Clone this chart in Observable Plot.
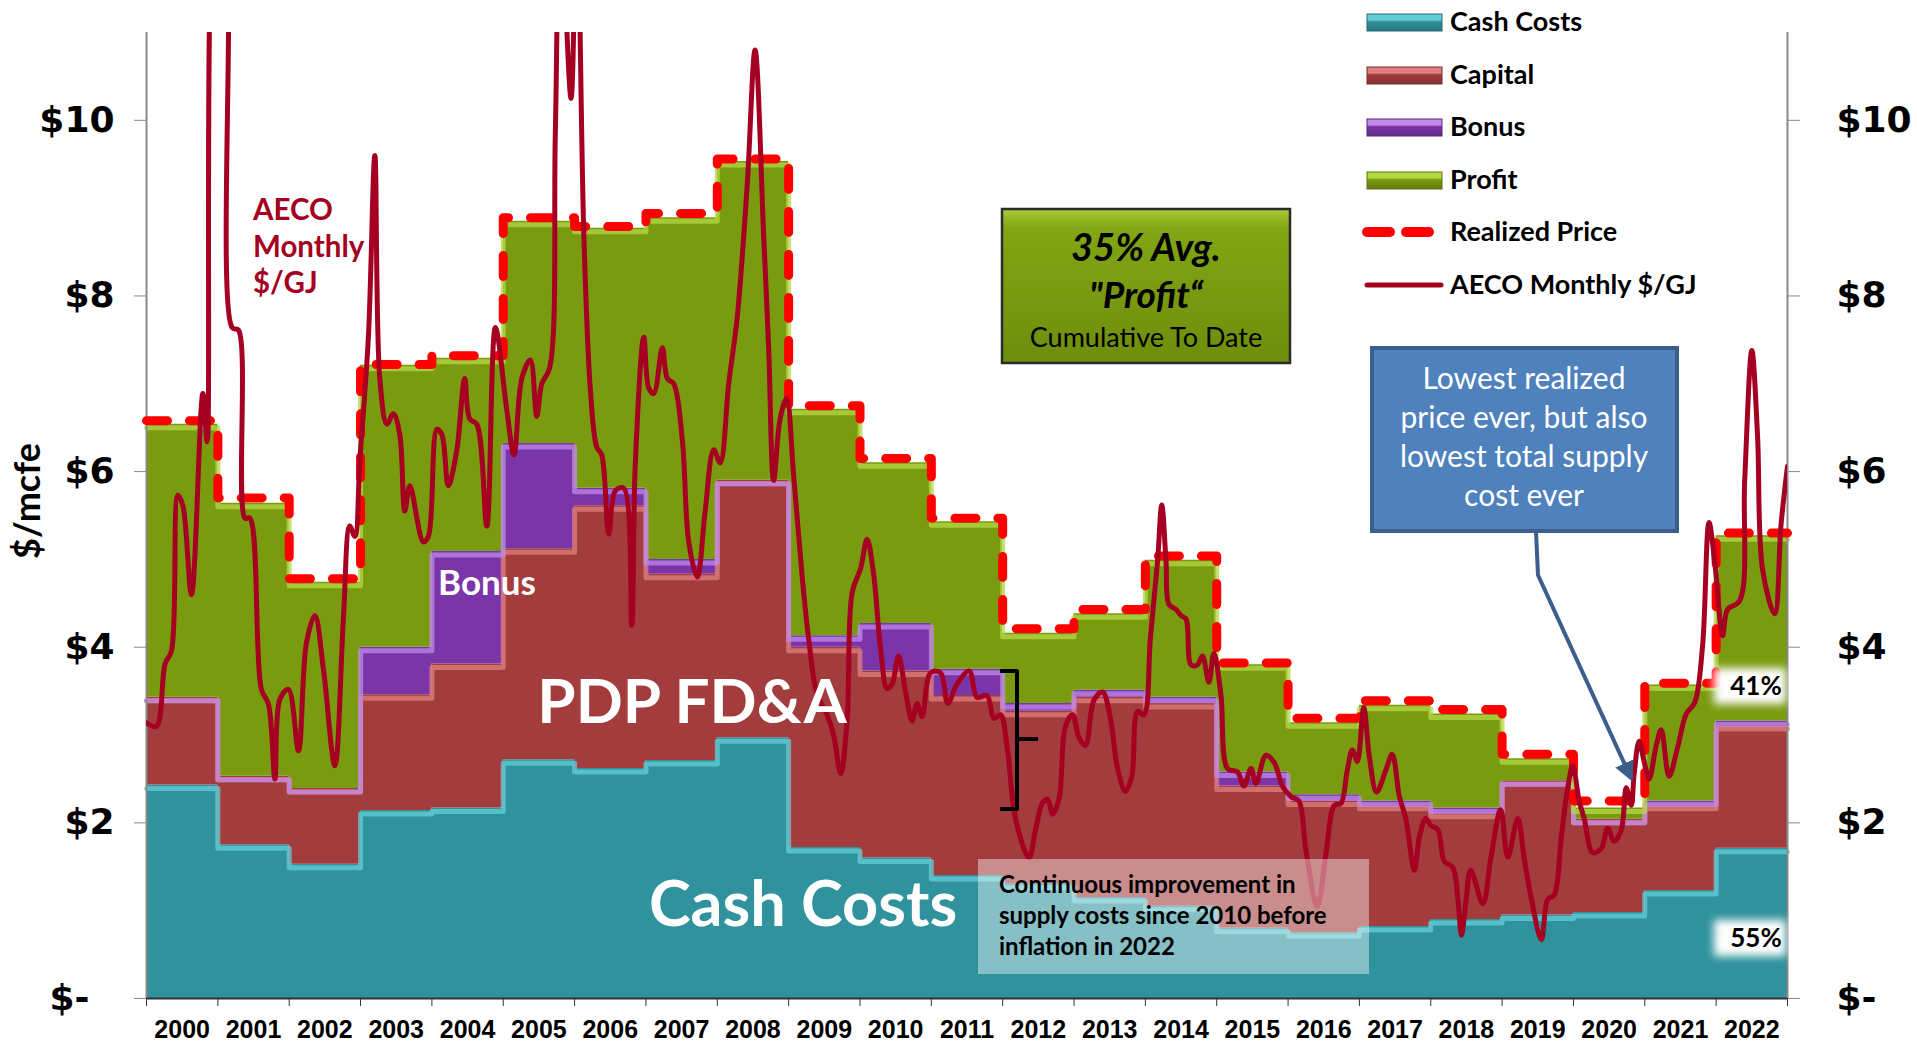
<!DOCTYPE html>
<html><head><meta charset="utf-8">
<script src="https://cdn.jsdelivr.net/npm/d3@7"></script>
<script src="https://cdn.jsdelivr.net/npm/@observablehq/plot@0.6"></script>
<style>
body{margin:0;background:#fff;}
#chart{position:relative;width:1917px;height:1044px;overflow:hidden}
</style></head><body><div id="chart"></div>
<script>
// ---- data ----
const years = [2000,2001,2002,2003,2004,2005,2006,2007,2008,2009,2010,2011,2012,2013,2014,2015,2016,2017,2018,2019,2020,2021,2022];
const cashCosts = [2.43,1.75,1.53,2.14,2.17,2.72,2.62,2.71,2.97,1.72,1.60,1.40,1.30,1.15,1.05,0.80,0.75,0.82,0.90,0.95,0.98,1.23,1.71];
const capital   = [1.00,0.78,0.86,1.32,1.64,2.40,2.99,2.12,2.93,2.28,2.13,2.05,1.97,2.28,2.31,1.62,1.50,1.38,1.21,1.53,1.06,0.97,1.40];
const bonus     = [0.00,0.00,0.00,0.54,1.28,1.20,0.20,0.17,0.00,0.13,0.54,0.30,0.09,0.08,0.07,0.16,0.07,0.05,0.06,0.00,0.00,0.05,0.05];
const profit    = [3.11,3.11,2.35,3.21,2.20,2.53,2.96,3.89,3.63,2.58,1.83,1.68,0.80,0.87,1.56,1.22,0.82,1.09,1.07,0.25,0.13,1.32,2.11];
const realizedPrice = [6.58,5.70,4.78,7.22,7.32,8.89,8.79,8.94,9.56,6.75,6.15,5.47,4.21,4.43,5.04,3.82,3.19,3.39,3.29,2.78,2.25,3.59,5.30];

// AECO monthly $/GJ: [decimal year, value]
const aecoTime = [2000.00,2000.14,2000.26,2000.35,2000.44,2000.51,2000.63,2000.79,2000.85,2000.98,2001.10,2001.20,2001.29,2001.38,2001.45,2001.61,2001.71,2001.80,2001.87,2001.99,
2002.13,2002.24,2002.36,2002.48,2002.64,2002.76,2002.85,2002.92,2002.99,2003.11,2003.20,2003.27,2003.37,2003.46,2003.55,2003.62,2003.69,2003.88,2003.95,
2004.07,2004.14,2004.23,2004.35,2004.46,2004.53,2004.63,2004.77,2004.89,2005.05,2005.15,2005.26,2005.38,2005.47,2005.54,2005.65,2005.73,2005.80,2005.95,
2006.03,2006.13,2006.22,2006.31,2006.38,2006.48,2006.57,2006.69,2006.80,2006.85,2006.97,2007.04,2007.11,2007.23,2007.30,2007.39,2007.51,2007.60,2007.72,2007.83,2007.95,
2008.04,2008.16,2008.28,2008.42,2008.53,2008.65,2008.72,2008.79,2008.88,2008.97,2009.07,2009.19,2009.28,2009.40,2009.54,2009.63,2009.73,2009.82,2009.89,
2010.01,2010.10,2010.19,2010.29,2010.38,2010.45,2010.54,2010.64,2010.73,2010.80,2010.87,2010.99,2011.13,2011.23,2011.36,2011.53,2011.64,2011.78,2011.88,2011.97,
2012.06,2012.18,2012.37,2012.46,2012.56,2012.63,2012.70,2012.79,2012.88,2012.98,2013.07,2013.16,2013.28,2013.40,2013.51,2013.61,2013.72,2013.81,2013.89,2013.98,
2014.07,2014.17,2014.23,2014.29,2014.33,2014.43,2014.50,2014.57,2014.64,2014.73,2014.80,2014.89,2014.96,2015.06,2015.15,2015.29,2015.38,2015.48,2015.55,2015.69,2015.81,2015.92,
2016.04,2016.15,2016.25,2016.41,2016.53,2016.65,2016.74,2016.83,2016.90,2016.97,2017.06,2017.14,2017.24,2017.37,2017.46,2017.56,2017.65,2017.77,2017.84,2017.93,
2018.00,2018.10,2018.19,2018.31,2018.38,2018.43,2018.49,2018.56,2018.73,2018.84,2018.98,2019.08,2019.22,2019.31,2019.40,2019.55,2019.64,2019.73,2019.83,2019.92,2019.99,
2020.08,2020.15,2020.27,2020.39,2020.48,2020.57,2020.67,2020.74,2020.81,2020.85,2020.92,2020.99,2021.06,2021.16,2021.23,2021.34,2021.46,2021.58,2021.70,2021.81,2021.90,2021.99,
2022.09,2022.16,2022.33,2022.40,2022.50,2022.58,2022.65,2022.82,2022.91,2023.00];
const aecoValue = [3.14,3.10,3.81,3.96,5.73,5.61,4.60,6.89,6.34,12.5,12.3,7.64,7.61,5.47,5.47,3.52,3.35,2.50,3.41,3.52,
2.82,4.04,4.36,3.75,2.65,4.33,5.38,5.26,6.13,7.53,9.60,7.06,6.54,6.66,6.42,5.55,5.84,5.20,5.26,
6.48,6.42,5.84,6.25,7.06,6.60,6.54,5.38,7.64,6.70,6.19,7.06,7.27,6.63,7.00,7.18,9.85,12.5,10.25,
12.5,8.69,6.95,6.28,6.19,5.29,5.78,5.81,4.25,6.07,7.53,6.95,6.89,7.41,7.06,7.00,6.36,5.20,4.80,5.55,6.25,
6.10,7.00,7.76,9.27,10.80,8.69,7.41,5.90,6.60,6.83,5.96,4.80,4.10,3.46,3.23,3.00,2.56,3.17,4.62,
4.90,5.23,4.84,3.97,3.53,3.58,3.90,3.49,3.16,3.36,3.21,3.71,3.71,3.36,3.58,3.73,3.43,3.45,3.19,3.23,
2.88,2.05,1.60,1.92,2.23,2.27,2.10,2.27,3.10,3.23,2.97,2.88,3.40,3.49,3.19,2.62,2.36,2.53,3.27,3.23,
4.10,4.97,5.62,4.97,4.49,4.43,4.36,4.32,3.80,3.80,3.90,3.60,3.93,3.45,2.62,2.58,2.42,2.62,2.45,2.77,2.68,2.42,
2.30,2.25,1.69,1.05,1.64,2.20,2.22,2.60,2.83,2.70,3.31,2.75,2.35,2.60,2.78,2.30,2.05,1.46,1.84,2.05,
1.97,1.92,1.56,1.49,1.13,0.72,1.08,1.46,1.08,1.59,2.15,1.61,2.05,1.59,1.18,0.67,1.13,1.18,1.84,2.40,2.65,
2.25,2.05,1.66,1.71,1.94,1.79,1.92,2.40,2.20,2.55,2.93,2.70,2.50,2.88,3.06,2.53,2.86,3.24,3.37,4.02,5.42,4.89,
4.13,4.43,4.53,5.90,7.38,6.41,4.89,4.38,5.40,6.06];

const seriesNames = ["Cash Costs","Capital","Bonus","Profit"];
const seriesColors = ["#2f929c","#a33c3c","#7a35a8","#7a9a10"];
const highlightColors = ["#66cdd8","#e07f7f","#c089ea","#b4d845"];
const yTicks = [0,2,4,6,8,10];

// ---- tables built from the arrays ----
const edges = [...years, years[years.length-1] + 1];
const idx = i => Math.min(i, years.length - 1);
const seriesValues = [cashCosts, capital, bonus, profit];
const stackRows = [];
seriesNames.forEach((s, k) => edges.forEach((yr, i) => stackRows.push({series: s, year: yr, value: seriesValues[k][idx(i)]})));
const topRows = seriesNames.map((s, k) => edges.map((yr, i) => ({year: yr, top: d3.sum(seriesValues.slice(0, k + 1), a => a[idx(i)])})));
const priceRows = edges.map((yr, i) => ({year: yr, price: realizedPrice[idx(i)]}));
const aecoRows = aecoTime.map((t, i) => ({t, v: aecoValue[i]}));

const W = 1917, H = 1044;
const plot = Plot.plot({
  width: W, height: H,
  marginLeft: 146, marginRight: 130, marginTop: 32, marginBottom: 46,
  x: {domain: [2000, 2023], axis: null},
  y: {domain: [0, 11], axis: null},
  color: {domain: seriesNames, range: seriesColors},
  style: {background: "white", overflow: "visible"},
  marks: [
    Plot.areaY(stackRows, {x: "year", y: "value", z: "series", fill: "series", order: seriesNames, curve: "step-after"}),
    ...topRows.map((rows, k) => Plot.line(rows, {x: "year", y: "top", curve: "step-after", stroke: highlightColors[k], strokeWidth: 5, dy: 3.5, strokeOpacity: 0.75})),
    Plot.ruleX([2000, 2023], {stroke: "#8a8a8a", strokeWidth: 2}),
    Plot.ruleY([0], {stroke: "#333", strokeWidth: 2}),
    Plot.line(priceRows, {x: "year", y: "price", curve: "step-after", stroke: "#ff0000", strokeWidth: 9, strokeDasharray: "21,22", strokeLinecap: "round", strokeLinejoin: "round"}),
    Plot.line(aecoRows, {x: "t", y: "v", curve: "catmull-rom", stroke: "#a50021", strokeWidth: 5, clip: true}),
    Plot.axisY({anchor: "left", ticks: yTicks, tickSize: 12, tickPadding: 20, stroke: "#888",
      tickFormat: d => d === 0 ? "$-\u00a0\u00a0" : "$" + d, fontSize: 36, fontWeight: "bold", fontFamily: "DejaVu Sans", fill: "#000"}),
    Plot.axisY({anchor: "right", ticks: yTicks, tickSize: 12, tickPadding: 37, stroke: "#888",
      tickFormat: d => d === 0 ? "$-" : "$" + d, fontSize: 36, fontWeight: "bold", fontFamily: "DejaVu Sans", fill: "#000"}),
    Plot.axisX({ticks: edges, tickSize: 8, tickFormat: () => "", stroke: "#333"}),
    Plot.axisX({ticks: years.map(y => y + 0.5), tickSize: 0, tickPadding: 22, tickFormat: d => String(Math.floor(d)),
      fontSize: 25, fontWeight: "bold", fontFamily: "Liberation Sans", fill: "#000"})
  ]
});
document.getElementById("chart").appendChild(plot);

// ---- annotations ----
const svg = d3.select(plot);
const defs = svg.append("defs");
function grad(id, stops) {
  const g = defs.append("linearGradient").attr("id", id).attr("x1", 0).attr("y1", 0).attr("x2", 0).attr("y2", 1);
  stops.forEach(([o, c]) => g.append("stop").attr("offset", o).attr("stop-color", c));
}
seriesNames.forEach((s, k) => grad("lg" + k, [[0, highlightColors[k]], [0.35, highlightColors[k]], [0.45, seriesColors[k]], [1, d3.color(seriesColors[k]).darker(0.6)]]));
grad("greenbox", [[0, "#a7cc3a"], [0.12, "#82a614"], [1, "#6e8d0c"]]);
defs.append("filter").attr("id", "blur").attr("x", "-30%").attr("y", "-40%").attr("width", "160%").attr("height", "180%")
  .append("feGaussianBlur").attr("stdDeviation", 4);
defs.append("marker").attr("id", "arrow").attr("viewBox", "0 0 10 10").attr("refX", 8).attr("refY", 5)
  .attr("markerWidth", 5).attr("markerHeight", 5).attr("orient", "auto")
  .append("path").attr("d", "M0,0L10,5L0,10z").attr("fill", "#3b5e8c");

const ann = svg.append("g").attr("text-anchor", "start");
const F = "Lato, 'Open Sans', sans-serif";

// y axis title
ann.append("text").attr("transform", "translate(40,501) rotate(-90)").attr("text-anchor", "middle")
  .attr("font-family", F).attr("font-weight", "bold").attr("font-size", 36).text("$/mcfe");

// legend
const legendY = [22, 75, 127, 180, 232, 285];
const legendLabels = ["Cash Costs", "Capital", "Bonus", "Profit", "Realized Price", "AECO Monthly $/GJ"];
legendLabels.forEach((lab, i) => {
  const y = legendY[i];
  if (i < 4) {
    ann.append("rect").attr("x", 1367).attr("y", y - 8).attr("width", 75).attr("height", 17)
      .attr("fill", `url(#lg${i})`).attr("stroke", d3.color(seriesColors[i]).darker(0.8)).attr("stroke-width", 1);
  } else if (i === 4) {
    ann.append("line").attr("x1", 1367).attr("x2", 1438).attr("y1", y).attr("y2", y).attr("stroke", "#ff0000")
      .attr("stroke-width", 10).attr("stroke-linecap", "round").attr("stroke-dasharray", "23,16");
  } else {
    ann.append("line").attr("x1", 1367).attr("x2", 1441).attr("y1", y).attr("y2", y).attr("stroke", "#a50021")
      .attr("stroke-width", 5).attr("stroke-linecap", "round");
  }
  ann.append("text").attr("x", 1450).attr("y", y + 9).attr("text-anchor", "start").attr("font-family", F).attr("font-weight", "bold")
    .attr("font-size", 27).attr("fill", "#000").text(lab);
});

// AECO label
[["AECO", 220], ["Monthly", 257], ["$/GJ", 293]].forEach(([t, y]) =>
  ann.append("text").attr("x", 253).attr("y", y).attr("text-anchor", "start").attr("font-family", F).attr("font-weight", "bold")
    .attr("font-size", 29.5).attr("fill", "#a50021").text(t));

// in-area labels
ann.append("text").attr("x", 487).attr("y", 595).attr("text-anchor", "middle").attr("font-family", F)
  .attr("font-weight", "bold").attr("font-size", 35).attr("fill", "#fff").text("Bonus");
ann.append("text").attr("x", 692).attr("y", 723).attr("text-anchor", "middle").attr("font-family", F)
  .attr("font-weight", "bold").attr("font-size", 62).attr("fill", "#fff").text("PDP FD&A");
ann.append("text").attr("x", 803).attr("y", 926).attr("text-anchor", "middle").attr("font-family", F)
  .attr("font-weight", "bold").attr("font-size", 63).attr("fill", "#fff").text("Cash Costs");

// green profit box
ann.append("rect").attr("x", 1002).attr("y", 209).attr("width", 288).attr("height", 154)
  .attr("fill", "url(#greenbox)").attr("stroke", "#2b2b2b").attr("stroke-width", 2.5);
ann.append("text").attr("x", 1146).attr("y", 261).attr("text-anchor", "middle").attr("font-family", F)
  .attr("font-weight", "bold").attr("font-style", "italic").attr("font-size", 38).text("35% Avg.");
ann.append("text").attr("x", 1146).attr("y", 308).attr("text-anchor", "middle").attr("font-family", F)
  .attr("font-weight", "bold").attr("font-style", "italic").attr("font-size", 37).text("\"Profit\u201c");
ann.append("text").attr("x", 1146).attr("y", 347).attr("text-anchor", "middle").attr("font-family", F)
  .attr("font-size", 27).text("Cumulative To Date");

// blue callout
ann.append("polyline").attr("points", "1536,532 1538,575 1631,778").attr("fill", "none")
  .attr("stroke", "#3b5e8c").attr("stroke-width", 4).attr("marker-end", "url(#arrow)");
ann.append("rect").attr("x", 1372).attr("y", 348).attr("width", 305).attr("height", 183)
  .attr("fill", "#4f81bd").attr("stroke", "#3b5e8c").attr("stroke-width", 4);
["Lowest realized", "price ever, but also", "lowest total supply", "cost ever"].forEach((t, i) =>
  ann.append("text").attr("x", 1524).attr("y", 389 + i * 39).attr("text-anchor", "middle").attr("font-family", F)
    .attr("font-size", 30).attr("fill", "#fff").text(t));

// brace
ann.append("path").attr("d", "M1000,671 L1017,671 L1017,739 L1038,739 M1017,739 L1017,809 L1000,809")
  .attr("fill", "none").attr("stroke", "#000").attr("stroke-width", 4).attr("stroke-linejoin", "round");

// translucent note box
ann.append("rect").attr("x", 978).attr("y", 859).attr("width", 391).attr("height", 115)
  .attr("fill", "#fff").attr("fill-opacity", 0.42);
["Continuous improvement in", "supply costs since 2010 before", "inflation in 2022"].forEach((t, i) =>
  ann.append("text").attr("x", 999).attr("y", 893 + i * 31).attr("text-anchor", "start").attr("font-family", F).attr("font-weight", "bold")
    .attr("font-size", 24).attr("fill", "#000").text(t));

// percentage tags
[["41%", 686], ["55%", 938]].forEach(([t, y]) => {
  ann.append("rect").attr("x", 1714).attr("y", y - 18).attr("width", 72).attr("height", 36)
    .attr("fill", "#fff").attr("filter", "url(#blur)");
  ann.append("text").attr("x", 1756).attr("y", y + 9).attr("text-anchor", "middle").attr("font-family", F)
    .attr("font-weight", "bold").attr("font-size", 26).attr("fill", "#000").text(t);
});
</script></body></html>
